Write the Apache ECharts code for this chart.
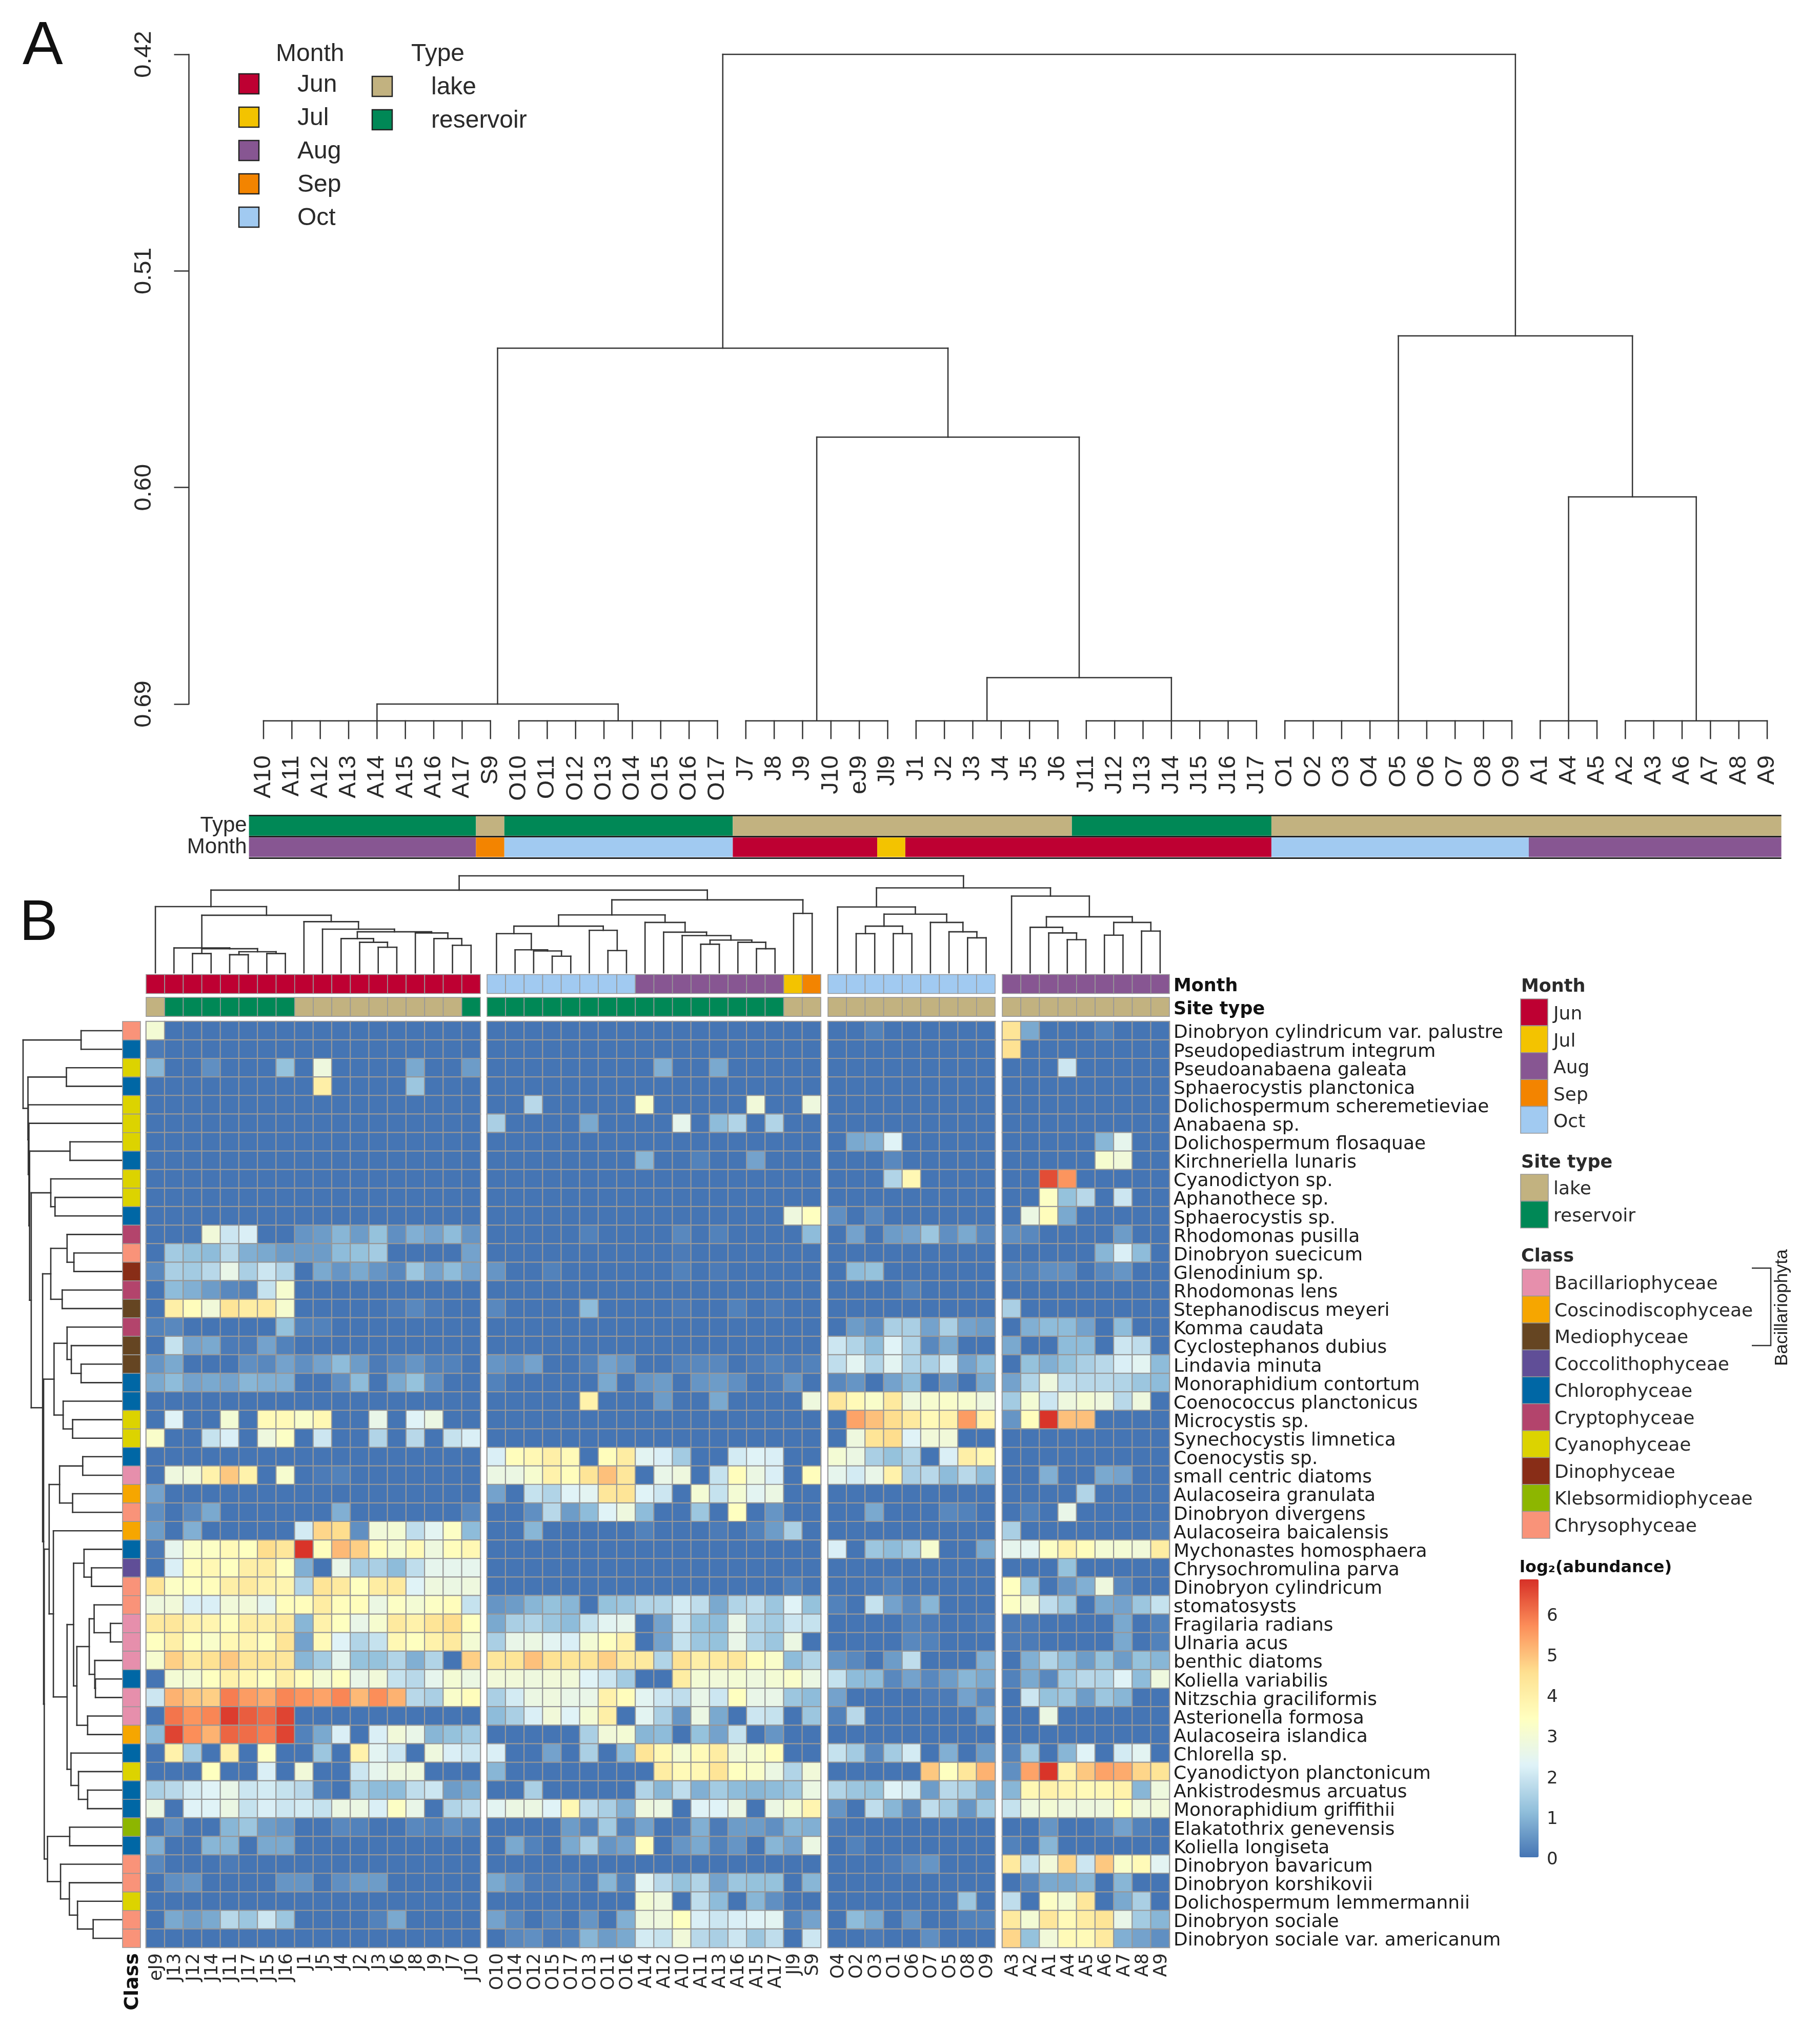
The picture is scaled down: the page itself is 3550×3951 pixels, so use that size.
<!DOCTYPE html>
<html><head><meta charset="utf-8">
<script src="https://cdn.jsdelivr.net/npm/echarts@6/dist/echarts.min.js"></script>
<style>html,body{margin:0;padding:0;background:#fff}#c{width:3550px;height:3951px}</style>
</head><body><div id="c"></div>
<script>
// ---------- Panel A data ----------
const samplesA = ['A10','A11','A12','A13','A14','A15','A16','A17','S9','O10','O11','O12','O13','O14','O15','O16','O17','J7','J8','J9','J10','eJ9','Jl9','J1','J2','J3','J4','J5','J6','J11','J12','J13','J14','J15','J16','J17','O1','O2','O3','O4','O5','O6','O7','O8','O9','A1','A4','A5','A2','A3','A6','A7','A8','A9'];
const typeBandsA = [[0,8,'reservoir'],[8,9,'lake'],[9,17.05,'reservoir'],[17.05,29,'lake'],[29,36.03,'reservoir'],[36.03,54,'lake']];
const monthBandsA = [[0,8,'Aug'],[8,9,'Sep'],[9,17.05,'Oct'],[17.05,22.14,'Jun'],[22.14,23.13,'Jul'],[23.13,36.03,'Jun'],[36.03,45.1,'Oct'],[45.1,54,'Aug']];
const axisTicksA = [0.42,0.51,0.60,0.69];
const treeA = [0.42,
  [0.5421,
    [0.69,[0.697,0,0,0,0,0,0,0,0,0],[0.697,0,0,0,0,0,0,0,0]],
    [0.5791,[0.697,0,0,0,0,0,0],[0.679,[0.697,0,0,0,0,0,0],[0.697,0,0,0,0,0,0,0]]]],
  [0.537,
    [0.697,0,0,0,0,0,0,0,0,0],
    [0.6039,[0.697,0,0,0],[0.697,0,0,0,0,0,0]]]];
// ---------- Panel B data ----------
const colsB1 = ['eJ9','J13','J12','J14','J11','J17','J15','J16','J1','J5','J4','J2','J3','J6','J8','J9','J7','J10'];
const colsB2 = ['O10','O14','O12','O15','O17','O13','O11','O16','A14','A12','A10','A11','A13','A16','A15','A17','Jl9','S9'];
const colsB3 = ['O4','O2','O3','O1','O6','O7','O5','O8','O9'];
const colsB4 = ['A3','A2','A1','A4','A5','A6','A7','A8','A9'];
const monthRunsB = [[['Jun',18]],[['Oct',8],['Aug',8],['Jul',1],['Sep',1]],[['Oct',9]],[['Aug',9]]];
const typeRunsB = [[['lake',1],['reservoir',7],['lake',9],['reservoir',1]],[['reservoir',16],['lake',2]],[['lake',9]],[['lake',9]]];
const taxa = ['Dinobryon cylindricum var. palustre','Pseudopediastrum integrum','Pseudoanabaena galeata','Sphaerocystis planctonica','Dolichospermum scheremetieviae','Anabaena sp.','Dolichospermum flosaquae','Kirchneriella lunaris','Cyanodictyon sp.','Aphanothece sp.','Sphaerocystis sp.','Rhodomonas pusilla','Dinobryon suecicum','Glenodinium sp.','Rhodomonas lens','Stephanodiscus meyeri','Komma caudata','Cyclostephanos dubius','Lindavia minuta','Monoraphidium contortum','Coenococcus planctonicus','Microcystis sp.','Synechocystis limnetica','Coenocystis sp.','small centric diatoms','Aulacoseira granulata','Dinobryon divergens','Aulacoseira baicalensis','Mychonastes homosphaera','Chrysochromulina parva','Dinobryon cylindricum','stomatosysts','Fragilaria radians','Ulnaria acus','benthic diatoms','Koliella variabilis','Nitzschia graciliformis','Asterionella formosa','Aulacoseira islandica','Chlorella sp.','Cyanodictyon planctonicum','Ankistrodesmus arcuatus','Monoraphidium griffithii','Elakatothrix genevensis','Koliella longiseta','Dinobryon bavaricum','Dinobryon korshikovii','Dolichospermum lemmermannii','Dinobryon sociale','Dinobryon sociale var. americanum'];
const taxonClass = ['Chrysophyceae','Chlorophyceae','Cyanophyceae','Chlorophyceae','Cyanophyceae','Cyanophyceae','Cyanophyceae','Chlorophyceae','Cyanophyceae','Cyanophyceae','Chlorophyceae','Cryptophyceae','Chrysophyceae','Dinophyceae','Cryptophyceae','Mediophyceae','Cryptophyceae','Mediophyceae','Mediophyceae','Chlorophyceae','Chlorophyceae','Cyanophyceae','Cyanophyceae','Chlorophyceae','Bacillariophyceae','Coscinodiscophyceae','Chrysophyceae','Coscinodiscophyceae','Chlorophyceae','Coccolithophyceae','Chrysophyceae','Chrysophyceae','Bacillariophyceae','Bacillariophyceae','Bacillariophyceae','Chlorophyceae','Bacillariophyceae','Bacillariophyceae','Coscinodiscophyceae','Chlorophyceae','Cyanophyceae','Chlorophyceae','Chlorophyceae','Klebsormidiophyceae','Chlorophyceae','Chrysophyceae','Chrysophyceae','Cyanophyceae','Chrysophyceae','Chrysophyceae'];
const heatB1 = [
[3.0,0,0,0,0,0,0,0,0,0,0,0,0,0,0,0,0,0],
[0.1,0,0,0,0,0,0,0,0,0,0,0,0,0,0,0,0,0],
[1.0,0,0,0.4,0,0,0,1.2,0,2.8,0,0,0,0,0.8,0,0,0.6],
[0,0,0,0,0,0,0,0,0,4.0,0,0,0,0,1.3,0,0,0],
[0,0,0,0,0,0,0,0,0,0,0,0,0,0,0,0,0,0],
[0,0,0,0,0,0,0,0,0,0,0,0,0,0,0,0,0,0],
[0,0,0,0,0,0,0,0,0,0,0,0,0,0,0,0,0,0],
[0,0,0,0,0,0,0,0,0,0,0,0,0,0,0,0,0,0],
[0,0,0,0,0,0,0,0,0,0,0,0,0,0,0,0,0,0],
[0,0,0,0,0,0,0,0,0,0,0,0,0,0,0,0,0,0],
[0,0,0,0,0,0,0,0,0,0,0,0,0,0,0,0,0,0],
[0,0,0,2.9,2.0,2.2,0,0,0.5,0.6,1.0,0.6,1.2,0.4,0.9,0.7,1.1,0.5],
[0,1.4,1.2,1.1,1.7,0.9,0.8,0.6,0.6,0.6,1.1,1.2,1.4,0,0,0,0,0.7],
[0.3,1.5,1.4,1.7,2.6,1.5,2.0,1.6,0,0.8,0.5,0.8,0.5,0.3,1.3,0.7,1.1,0.7],
[0,1.1,0.9,0.6,0.3,0.2,1.9,3.1,0,0,0,0,0,0,0,0,0,0],
[0,4.0,3.5,2.9,4.4,4.1,4.2,3.1,0,0,0,0,0,0.1,0.3,0.1,0,0],
[0.2,0.3,0,0,0,0,0,1.2,0.2,0.2,0,0,0,0,0,0,0,0],
[0,1.9,0.7,0.8,0.1,0.1,0.7,0.2,0,0,0,0,0,0,0,0,0,0],
[0.5,0.8,0,0,0,0.4,0.3,0.7,0.4,0.7,1.1,0.6,0.1,0.3,0.5,0.2,0.2,0],
[0.8,1.1,0.7,0.8,0.7,1.0,0.9,0.9,0,0,0.4,1.1,0,0.8,1.2,0.4,0,0],
[0,0,0,0,0,0,0,0,0,0,0,0,0,0,0,0,0,0],
[0,2.3,0,0,3.0,0,3.6,3.6,3.2,3.7,0,0,2.6,0,2.3,2.7,0,0],
[3.2,0,0,1.9,2.2,0,2.8,3.3,0,2.0,0,0,1.6,0,1.7,0,1.9,2.2],
[0,0,0,0,0,0,0,0,0,0,0,0,0,0,0,0,0,0],
[0,2.8,2.9,3.9,4.9,3.9,0,3.1,0,0.1,0.2,0,0,0,0,0,0,0],
[0.7,0,0,0,0,0,0,0,0,0,0,0,0,0,0,0,0,0],
[0.4,0,0.3,0.8,0,0,0,0,0,0,0.9,0,0,0,0,0,0,0.3],
[0.6,0,0.9,0,0,0,0,0,2.1,4.7,4.6,0.4,2.9,3.0,1.8,2.4,3.3,1.1],
[0.1,2.5,3.2,3.3,3.6,3.4,4.6,4.3,6.8,3.5,5.1,4.8,3.5,3.1,3.6,2.8,3.5,3.7],
[0,2.2,3.5,3.7,3.4,4.0,4.1,3.4,0.9,0,2.6,1.4,1.5,1.1,1.8,2.5,2.5,2.5],
[4.4,3.3,3.4,3.5,4.0,4.2,3.9,3.8,1.6,4.4,4.2,3.4,4.1,4.2,2.3,2.8,2.7,2.8],
[2.8,2.9,2.2,2.2,2.9,2.9,2.5,3.5,3.5,4.1,3.5,3.5,2.7,3.3,3.0,3.3,3.5,1.9],
[4.2,4.3,3.9,3.8,3.5,4.1,4.0,4.2,1.0,3.9,3.4,2.6,3.1,4.2,3.9,4.4,4.6,3.4],
[3.4,4.0,3.4,3.2,3.7,3.8,3.5,4.4,0.7,3.6,2.3,1.6,1.9,3.7,3.4,3.9,4.2,3.0],
[3.1,4.8,4.2,4.5,4.9,4.4,4.4,4.3,1.0,1.4,2.5,1.2,1.2,1.6,0.9,1.6,0,4.8],
[0,3.0,3.0,3.4,3.9,3.7,3.4,4.0,3.5,3.0,3.4,2.6,2.9,1.9,1.7,2.5,3.0,2.7],
[2.0,5.2,4.9,4.8,5.9,5.5,5.3,5.8,5.6,5.4,5.8,5.1,5.7,5.2,1.7,1.5,3.2,3.5],
[0,6.0,5.6,5.8,6.7,6.3,6.1,6.6,0,0,0,0,0,0,0,0,0,0],
[1.1,6.6,5.7,5.2,6.2,6.1,5.9,6.6,0.2,0.8,2.2,0,2.2,2.9,2.6,1.0,1.2,1.4],
[0,3.9,1.4,0,4.0,0,3.3,0,0,1.3,0,3.9,2.4,2.0,0,2.8,2.2,2.0],
[0,0,0,3.4,0,0,2.2,0,2.9,0,0,2.0,2.5,2.8,2.8,0,0,0],
[1.5,1.7,2.1,2.3,2.6,2.0,2.1,1.9,1.7,0.2,0,1.4,1.1,1.1,1.8,2.0,0.6,0.8],
[2.7,0,2.3,2.3,2.7,1.9,2.2,2.0,2.1,1.9,2.7,2.7,2.2,3.3,2.6,0,1.6,1.8],
[0,0.4,0,0,1.0,1.3,0.6,0.5,0,0,0.3,0.2,0,0,0.3,0.2,0.4,0.2],
[0.9,0,0,1.0,1.0,0,0.8,0.8,0,0,0,0,0,0,0,0,0,0],
[0.3,0,0,0,0.1,0,0,0,0,0,0,0,0,0,0,0,0,0],
[0,0.4,0.5,0,0,0,0,0.5,0.5,0,0.4,0.6,0.6,0,0,0,0,0],
[0,0,0,0,0,0,0,0,0,0,0,0,0,0,0,0,0,0],
[0,0.8,0.6,0.8,1.7,1.3,2.0,1.3,0,0,0,0,0.2,0.8,0,0,0,0],
[0,0,0,0,0,0,0,0,0,0,0,0,0,0,0,0,0,0]];
const heatB2 = [
[0,0,0,0,0,0,0,0,0,0,0,0,0,0,0,0,0,0],
[0,0,0,0,0,0,0,0,0,0,0,0,0,0,0,0,0,0],
[0,0,0,0,0,0,0,0,0,0.9,0,0,0.8,0,0,0,0,0],
[0,0,0,0,0,0,0,0,0,0,0,0,0,0,0,0,0,0],
[0,0,1.7,0,0,0,0,0,3.2,0,0,0,0,0,2.9,0,0,2.8],
[1.5,0,0,0,0,0.8,0,0,0,0,2.5,0,1.1,1.6,0,1.6,0,0],
[0,0,0,0,0,0,0,0,0,0,0,0,0,0,0,0,0,0],
[0,0,0,0,0,0,0,0,1.0,0,0,0.2,0,0,0.7,0,0,0],
[0,0,0,0,0,0,0,0,0,0,0,0,0,0,0,0,0,0],
[0,0,0,0,0,0,0,0,0,0,0,0,0,0,0,0,0,0],
[0,0,0,0,0,0,0,0,0,0,0,0,0,0,0,0,2.8,3.4],
[0,0,0,0,0,0.2,0,0,0,0,0.3,0,0.2,0,0,0,0,1.1],
[0,0,0,0,0,0,0,0,0,0,0.1,0,0,0,0,0,0,0],
[0.5,0,0,0.2,0,0,0,0,0,0,0.2,0,0.1,0,0,0,0,0],
[0,0,0,0,0,0,0,0,0,0,0,0,0,0,0,0,0,0],
[0.3,0,0,0,0,1.1,0,0,0,0,0.1,0,0,0.2,0,0.1,0,0],
[0,0,0,0,0,0,0,0,0,0,0,0,0,0,0,0,0,0],
[0,0,0,0,0,0,0,0,0,0,0,0,0,0,0,0,0,0],
[0.5,0.4,0.7,0,0,0.2,0.7,0.5,0,0,0.2,0.3,0.3,0,0.1,0.2,0.1,0.2],
[0.2,0,0,0,0,0,0.8,0,0.5,0.6,0,0.5,0.6,0.4,0,0.1,0.5,0],
[0,0,0,0,0,3.9,0,0,0,0.6,0,0,0.8,0,0,0,0,2.8],
[0,0,0,0,0,0,0,0,0,0,0,0,0,0,0,0,0,0],
[0,0,0,0,0,0,0,0,0,0,0,0,0,0,0,0,0,0],
[2.2,3.5,3.7,4.0,3.6,0,3.5,4.1,2.4,2.2,1.4,0,0,2.1,2.3,2.2,0,0],
[2.7,2.7,3.1,3.9,3.5,4.4,5.0,4.3,0,2.6,2.8,0,1.9,3.5,2.7,2.2,0,3.5],
[0.7,0,1.9,1.6,2.3,2.4,4.3,4.4,2.3,2.0,0,3.0,1.9,3.0,2.4,2.7,0,0],
[0,0,0.4,1.7,0.6,1.1,2.3,2.8,1.1,0,0,1.3,0,3.4,0,0.5,0,0],
[0,0,1.0,0,0,0,0,0,0.2,0,0,0,0.1,0,0.2,0.6,1.5,0],
[0,0,0,0,0,0,0,0,0,0,0,0,0,0,0,0,0,0],
[0,0,0,0,0,0,0,0,0,0,0,0,0,0,0,0,0,0],
[0,0,0,0,0,0,0,0,0,0,0,0,0,0,0,0,0.2,0],
[0.5,0.6,1.0,1.2,1.0,0,1.2,1.3,1.6,1.6,2.1,1.8,0.8,1.6,1.8,1.3,2.3,1.2],
[0.8,1.5,1.6,1.3,1.1,1.9,2.4,2.5,0,0.7,2.0,1.2,1.1,2.6,1.6,1.4,2.0,1.9],
[1.5,2.6,2.7,2.4,2.2,3.0,3.4,3.9,0,0.7,1.9,1.3,1.2,2.6,1.6,1.3,2.7,0],
[4.3,4.4,5.0,4.5,4.4,4.4,4.8,4.2,4.2,1.6,4.5,4.0,4.2,4.3,3.5,3.2,1.1,1.6],
[2.9,2.9,2.8,2.9,2.9,2.3,2.0,1.4,0,0,4.1,3.0,2.9,3.0,2.8,3.0,3.2,2.7],
[1.5,2.1,2.7,2.8,2.6,2.6,3.9,3.5,2.4,2.0,1.8,2.6,2.0,3.4,2.6,2.6,1.3,1.1],
[1.1,1.5,2.2,2.9,2.3,3.0,4.0,0,2.4,1.5,0.5,2.7,0.8,0,2.0,1.9,0,1.3],
[0,0,0,0,0,1.5,2.9,3.0,1.0,1.1,0,1.2,0.7,1.9,0,0.5,0,0],
[2.2,0,0,0.7,0,1.5,0,1.1,4.4,3.7,3.0,3.6,4.1,2.9,3.1,3.5,0,0],
[1.0,0,0,0,0,0,0,0,0,4.1,3.6,3.7,4.4,3.4,3.2,2.7,1.6,2.9],
[0,0,1.5,0,0,0,0,0,1.6,1.0,1.8,0.9,1.4,1.1,1.0,1.1,1.3,2.7],
[2.4,2.7,2.7,2.3,3.7,1.8,1.5,0.9,2.8,2.7,0,2.3,2.3,2.7,0,2.7,3.0,3.8],
[0,0,0,0,0.6,0.2,1.4,0.2,0.7,0,0.1,0.9,0.1,0.6,0.6,0.4,1.0,0.9],
[0,0.8,0.2,0,0.8,1.5,0.5,0.7,3.5,0,0.5,0.8,0.2,0.5,0,1.0,0.7,2.7],
[0,0,0,0,0,0,0,0,0,0,0,0,0,0,0,0,0,0],
[0.8,0.5,0.1,0.1,0.2,0,1.0,0.2,2.4,1.7,1.2,1.6,0.7,1.3,1.2,1.2,0,1.0],
[0,0,0,0,0,0,0,0,3.0,2.8,0,1.8,1.1,0,1.0,0.4,0,0],
[0.7,0.3,0,0.2,0,0.5,0,0.9,2.8,2.8,3.4,2.2,2.0,2.2,2.3,2.4,0.2,0.7],
[0,0.3,0.4,0.1,0.2,1.0,0.6,0.8,2.1,1.9,2.9,1.7,1.5,2.0,1.3,1.8,0,2.0]];
const heatB3 = [
[0,0,0.2,0,0,0,0,0,0],[0,0,0,0,0,0,0,0,0],[0,0,0,0,0,0,0,0,0],[0,0,0,0,0,0,0,0,0],[0,0,0,0,0,0,0,0,0],[0,0,0,0,0,0,0,0,0],
[0,0.8,0.9,2.3,0,0,0,0,0],[0,0,0,0.3,0,0,0,0,0],[0,0,0,1.6,3.7,0,0,0,0],[0,0,0,0,0,0,0,0,0],[0.4,0,0.3,0,0,0,0,0,0],
[0,0.7,0,0.6,0.7,1.3,0.4,0.8,0.3],[0,0,0,0,0,0,0,0,0],[0,1.1,1.2,0,0,0,0,0,0],[0,0,0,0,0.2,0,0,0,0],[0,0,0,0,0,0,0,0,0],
[0,0.6,0.4,1.5,1.5,0.7,1.5,0.7,0.6],[2.0,1.6,1.1,2.3,1.6,0.3,0.8,0,0],[1.8,2.4,1.6,2.4,1.6,1.5,2.1,0.7,1.1],[0.3,0.5,0,0.7,1.1,0,0.5,0,0.8],
[4.3,3.6,3.2,4.2,2.8,3.1,3.2,3.1,2.8],[0,5.4,5.0,4.6,4.2,3.6,3.9,5.5,3.8],[0,2.8,4.4,4.6,2.3,2.9,2.9,0,0],
[3.0,2.7,1.5,1.2,1.6,0,2.2,4.0,3.7],[2.5,2.1,2.6,3.9,1.5,1.7,1.1,1.7,1.1],[0,0,0,0,0,0,0,0,0],[0,0,0.8,0,0,0,0.3,0.2,0],[0,0,0,0,0,0,0,0,0],
[2.2,0,1.3,1.1,1.4,3.1,0,0,0.8],[0,0,0,0,0,0,0,0,0],[0,0,0.05,0.2,0,0,0,0,0],[0.2,0,1.9,0.7,0.3,1.0,0,0,0],
[0,0,0,0,0.2,0.1,0,0,0.1],[0,0,0,0,0.3,0.2,0,0,0],[0.5,0.3,0,0.6,1.8,0,0,0,0.9],[1.9,1.1,1.1,0.3,0.7,0.3,0.6,1.0,0.8],
[0.7,0,0,0,0,0.1,0.1,0.7,0.3],[0.2,1.7,0,0,0,0,0,0,0.8],[0,0,0,0,0,0,0,0,0],[1.9,1.4,0.3,1.4,2.1,0,0.9,0,0.6],
[0,0,0,0,0,4.9,3.4,4.3,5.2],[1.6,1.3,1.2,2.3,2.1,0.6,1.7,1.5,0.8],[0.5,0,1.8,1.0,0.3,1.8,1.4,0.5,1.4],
[0.1,0,0,0,0,0,0,0,0],[0,0.2,0,0,0,0,0,0,0],[0,0,0,0.1,0.3,0.5,0,0,0],[0,0,0,0,0,0,0,0,0],[0,0,0,0,0,0,0,1.3,0],
[0,1.1,0.8,0,0.5,0,0,0.2,0.2],[0,0,0.1,0,0,0.4,0,0,0]];
const heatB4 = [
[4.4,0.8,0,0,0,0.2,0,0,0],[4.5,0,0,0,0,0,0,0,0],[0,0,0,2.0,0,0,0,0,0],[0,0,0,0,0,0,0,0,0],[0,0,0,0,0,0,0,0,0],[0,0,0,0,0,0,0,0,0],
[0,0,0,0,0,1.0,2.5,0,0],[0,0,0,0,0,3.1,2.9,0,0],[0,0,6.5,5.6,0,0,0,0,0],[0,0,3.3,1.2,1.7,0,2.0,0,0],[0,2.7,3.5,0.8,0,0,0,0,0],
[0.4,0.3,0,0,0,0,0.6,0,0],[0,0,0,0,0,1.0,2.2,1.1,0],[0.2,0.2,0.4,0.4,0,0.3,0.5,0,0],[0,0,0,0,0,0,0,0,0],[1.5,0,0,0,0,0,0,0,0],
[0,0.9,1.1,1.1,0.7,0,1.1,0,0],[0.8,0,0,1.1,1.1,0,2.0,1.8,0],[0,1.2,0.9,1.2,1.5,1.7,2.2,2.4,1.1],[0.7,1.6,2.8,1.8,1.7,1.7,1.6,1.3,1.1],
[1.4,3.0,2.0,2.8,3.0,2.8,1.7,2.8,0],[0.5,3.5,6.8,5.0,5.0,0,0,0,0],[0,0,0,0,0,0,0,0,0],[0,0,0,0,0,0,0,0,0],
[0,0,0.9,0,0,0.8,0.7,0,0],[0,0,0,0,1.6,0,0,0,0],[0,0.2,0,2.6,0,0,0,0,0],[1.5,0,0,0,0,0,0,0,0.1],
[2.5,2.4,3.3,3.9,3.5,3.0,3.0,2.9,4.1],[0,0,0,1.2,0,0,0,0,0],[3.4,1.3,0,0.5,0.9,2.8,0.3,0,0],[3.3,2.9,1.8,1.3,0,0.8,0.7,1.3,1.9],
[0.1,0.1,0,0,0,0,0.8,0,0.2],[0.1,0.1,0,0,0,0,0.8,0,0.2],[0,0.9,1.6,1.1,0.6,1.2,0.6,1.2,1.0],[0.2,0.8,0.3,1.4,1.7,1.6,2.3,1.1,2.8],
[0,2.0,1.2,1.3,0.6,1.3,1.0,0,0],[0,0,2.7,0,0,0,0,0,0],[0,0,0,0,0,0,0,0,0],[0.2,1.4,0,1.0,2.3,0,2.1,2.4,0],
[0.4,5.4,6.8,3.9,4.9,5.4,5.3,4.7,4.4],[1.0,3.7,3.9,3.8,3.6,3.7,3.9,1.0,2.8],[1.9,2.8,3.0,2.8,2.8,2.8,3.4,2.8,2.9],
[0,0,0.5,0,0,0.2,0.7,0.2,0],[0.2,0,1.0,0,0,0,0,0,0],[4.2,1.9,2.9,4.7,2.0,4.9,3.2,3.6,2.4],[0,0.3,0.8,0.8,1.0,0,1.0,0,0],
[1.8,0,3.3,3.0,4.3,0,0.8,1.5,0],[4.2,3.0,4.3,3.6,4.1,4.4,2.6,1.4,1.0],[4.7,1.2,2.9,3.6,3.6,4.2,0.9,0.7,0.4]];
const treeTop = [258,
  [220,
    [176,0,[153,[66,0,[64,[51,0,0],[56,[48,0,0],[51,0,0]]]],[136,0,[116,0,[109,[91,0,[81,0,[68,0,0]]],[106,0,[91,0,[73,0,0]]]]]]]],
    [194,[154,[124,[104,0,[61,0,[58,0,[44,0,0]]]],[113,0,[59,0,0]]],[134,0,[108,0,[99,0,[87,[76,0,0],[81,0,[64,0,0]]]]]]],[158,0,0]]],
  [226,
    [175,0,[156,[124,[104,0,0],[104,0,0]],[134,0,[109,0,[93,0,0]]]]],
    [204,0,[149,[121,0,[106,0,[88,0,0]]],[134,[100,0,0],[111,0,0]]]]]];
const treeRows = [302,[124,0,0],
  [287,[169,0,0],[286,0,[284,0,[282,[158,0,0],[277,[217,0,[204,0,0]],
    [242,
      [217,[167,0,[146,0,0]],[182,0,0]],
      [239,
        [207,[167,0,[154,0,[124,0,0]]],[179,0,[150,0,0]]],
        [237,
          [222,
            [190,[119,0,0],[150,0,0]],
            [209,0,[167,
              [147,[115,0,[92,0,0]],[137,[99,[84,0,[34,0,0]],[82,0,[80,0,0]]],[104,0,0]]],
              [155,0,[132,0,[104,0,0]]]]]],
          [227,[159,0,0],[187,0,[160,0,[135,0,[87,0,0]]]]]]]]]]]]]];
const monthNames = ['Jun','Jul','Aug','Sep','Oct'];
const siteNames = ['lake','reservoir'];
const classNames = ['Bacillariophyceae','Coscinodiscophyceae','Mediophyceae','Coccolithophyceae','Chlorophyceae','Cryptophyceae','Cyanophyceae','Dinophyceae','Klebsormidiophyceae','Chrysophyceae'];
const colorbarTicks = [0,1,2,3,4,5,6];
const colorbarMax = 6.85;
// ---------- Styling ----------
const palette = {Jun:'#BE0032',Jul:'#F3C300',Aug:'#875692',Sep:'#F38400',Oct:'#A1CAF1',lake:'#C2B280',reservoir:'#008856',
  Bacillariophyceae:'#E68FAC',Coscinodiscophyceae:'#F6A600',Mediophyceae:'#654522',Coccolithophyceae:'#604E97',Chlorophyceae:'#0067A5',Cryptophyceae:'#B3446C',Cyanophyceae:'#DCD300',Dinophyceae:'#882D17',Klebsormidiophyceae:'#8DB600',Chrysophyceae:'#F99379'};
const heatColors = ['#4575B4','#91BFDB','#E0F3F8','#FFFFBF','#FEE090','#FC8D59','#D73027'];
const SANS='"Liberation Sans",Arial,sans-serif', DV='"DejaVu Sans",sans-serif', INK='#2a2a2a', LINE='#333333', GRID='#989898';

function expand(runs){const o=[];runs.forEach(r=>{for(let i=0;i<r[1];i++)o.push(r[0]);});return o;}
function buildDendro(tree,leafPos,base){
  let n=0;const segs=[];
  (function walk(node){
    if(node===0){const p=leafPos(n++);return {p,h:base};}
    const h=node[0],cs=node.slice(1).map(walk),ps=cs.map(c=>c.p),lo=Math.min(...ps),hi=Math.max(...ps);
    segs.push([lo,h,hi,h]);
    cs.forEach(c=>segs.push([c.p,c.h,c.p,h]));
    return {p:(lo+hi)/2,h};
  })(tree);
  return segs;
}
const hidden={show:false};
const grids=[],xAxes=[],yAxes=[],series=[];
function addGrid(g,x,y){grids.push(g);const i=grids.length-1;
  [].concat(x).forEach(a=>xAxes.push(Object.assign({gridIndex:i},a)));
  [].concat(y).forEach(a=>yAxes.push(Object.assign({gridIndex:i},a)));
  return i;}
function dendroSeries(segs,xi,yi,transposed,width){
  return {type:'custom',coordinateSystem:'cartesian2d',xAxisIndex:xi,yAxisIndex:yi,silent:true,clip:false,data:segs,z:3,
    renderItem:(p,api)=>{
      const v=[api.value(0),api.value(1),api.value(2),api.value(3)];
      const a=api.coord(transposed?[v[1],v[0]]:[v[0],v[1]]),b=api.coord(transposed?[v[3],v[2]]:[v[2],v[3]]);
      return {type:'line',shape:{x1:a[0],y1:a[1],x2:b[0],y2:b[1]},style:{stroke:LINE,lineWidth:width,lineCap:'square',fill:null}};
    }};
}
function stripSeries(items,xi,yi,fracH,stroke){
  return {type:'custom',coordinateSystem:'cartesian2d',xAxisIndex:xi,yAxisIndex:yi,silent:true,clip:false,z:2,
    data:items.map(d=>[d[0],d[1]]),
    renderItem:(p,api)=>{
      const c=api.coord([api.value(0),api.value(1)]),s=api.size([1,1]),h=s[1]*fracH;
      const col=palette[items[p.dataIndex][2]];
      return {type:'rect',shape:{x:c[0]-s[0]/2,y:c[1]-h/2,width:s[0],height:h},
        style:{fill:col,stroke:stroke||col,lineWidth:stroke?1.6:0.8}};
    }};
}
// Panel A y axis (stands apart from the tree, as in base R plots)
addGrid({left:368.5,top:106,width:10,height:1267},{type:'value',min:0,max:1,show:false},
 {type:'value',inverse:true,min:axisTicksA[0],max:axisTicksA[3],interval:0.09,splitLine:hidden,position:'left',
  axisLine:{show:true,lineStyle:{color:LINE,width:2.5}},axisTick:{show:true,length:29,lineStyle:{color:LINE,width:2.5}},
  axisLabel:{rotate:90,margin:64,fontFamily:SANS,fontSize:47,color:INK,formatter:v=>v.toFixed(2)}});
// Panel A dendrogram
const segsA=buildDendro(treeA,i=>i,0.7043);
let xi=xAxes.length,yi=yAxes.length;
addGrid({left:514,top:106,width:2933,height:1267},
 [{type:'category',data:samplesA,boundaryGap:false,axisLine:hidden,axisTick:hidden,
   axisLabel:{interval:0,rotate:90,margin:100,fontFamily:SANS,fontSize:47,color:INK}},
  {type:'value',min:0,max:53,show:false}],
 {type:'value',inverse:true,min:axisTicksA[0],max:axisTicksA[3],show:false});
series.push(dendroSeries(segsA,xi+1,yi,false,2.5));
// Panel A strips: bands on a leaf-position axis
const rowsA=['Type','Month'];
xi=xAxes.length;yi=yAxes.length;
addGrid({left:485.6,top:1590,width:2989,height:83},
 {type:'value',min:0,max:54,show:false},
 {type:'category',data:rowsA,inverse:true,axisLine:hidden,axisTick:hidden,
  splitLine:{show:true,interval:0,lineStyle:{color:'#222',width:3}},
  axisLabel:{interval:0,margin:4,fontFamily:SANS,fontSize:42,color:INK}});
const bandsA=typeBandsA.map(b=>[b[0],b[1],0,b[2]]).concat(monthBandsA.map(b=>[b[0],b[1],1,b[2]]));
series.push({type:'custom',coordinateSystem:'cartesian2d',xAxisIndex:xi,yAxisIndex:yi,silent:true,clip:false,z:2,
  data:bandsA.map(b=>[b[0],b[1],b[2]]),encode:{x:[0,1],y:2},
  renderItem:(p,api)=>{
    const a=api.coord([api.value(0),api.value(2)]),b=api.coord([api.value(1),api.value(2)]),h=api.size([0,1])[1]*0.91;
    return {type:'rect',shape:{x:a[0],y:a[1]-h/2,width:b[0]-a[0],height:h},style:{fill:palette[bandsA[p.dataIndex][3]]}};
  }});
// Panel B dendrograms
const blockGap=0.37,colBlock=i=>i<18?0:i<36?1:i<45?2:3;
const segsTop=buildDendro(treeTop,i=>i+0.5+blockGap*colBlock(i),0);
xi=xAxes.length;yi=yAxes.length;
addGrid({left:285,top:1708,width:1996,height:189},{type:'value',min:0,max:55.11,show:false},{type:'value',min:0,max:258,show:false});
series.push(dendroSeries(segsTop,xi,yi,false,2.6));
const segsRows=buildDendro(treeRows,i=>i+0.5,0);
xi=xAxes.length;yi=yAxes.length;
addGrid({left:45,top:1992,width:192,height:1806},{type:'value',inverse:true,min:0,max:302,show:false},{type:'value',inverse:true,min:0,max:50,show:false});
series.push(dendroSeries(segsRows,xi,yi,true,2.6));
// Panel B class strip
xi=xAxes.length;yi=yAxes.length;
addGrid({left:242,top:1992,width:35,height:1806},
 {type:'category',data:['Class'],axisLine:hidden,axisTick:hidden,axisLabel:{interval:0,rotate:90,margin:11,fontFamily:DV,fontWeight:'bold',fontSize:38,color:'#111'}},
 {type:'category',inverse:true,data:taxa,show:false});
xi=xAxes.length;yi=yAxes.length;
addGrid({left:239,top:1992,width:35,height:1806},
 {type:'category',data:['Class'],show:false},
 {type:'category',inverse:true,data:taxa,show:false});
series.push(stripSeries(taxonClass.map((c,i)=>[0,i,c]),xi,yi,1,GRID));
// Panel B heat blocks + strips
const blocks=[{c:colsB1,h:heatB1,l:285,w:652},{c:colsB2,h:heatB2,l:950,w:651},{c:colsB3,h:heatB3,l:1615,w:326},{c:colsB4,h:heatB4,l:1955,w:326}];
const heatIdx=[];
blocks.forEach((b,k)=>{
  const last=k===3;
  xi=xAxes.length;yi=yAxes.length;
  addGrid({left:b.l,top:1992,width:b.w,height:1806},
   {type:'category',data:b.c,show:false},
   {type:'category',inverse:true,data:taxa,show:false});
  const data=[];
  b.h.forEach((row,r)=>row.forEach((v,c)=>data.push([c,r,v])));
  heatIdx.push(series.length);
  series.push({type:'heatmap',xAxisIndex:xi,yAxisIndex:yi,data,silent:true,progressive:0,z:2,
    itemStyle:{borderColor:GRID,borderWidth:2.2}});
  // labels sit in their own frame, nudged to the reference's text baseline
  addGrid({left:b.l+3,top:1997,width:b.w,height:1806},
   {type:'category',data:b.c,axisLine:hidden,axisTick:hidden,axisLabel:{interval:0,rotate:90,margin:6,fontFamily:DV,fontSize:35,color:INK}},
   {type:'category',inverse:true,data:taxa,position:'right',axisLine:hidden,axisTick:hidden,
    axisLabel:{show:last,interval:0,margin:5,fontFamily:DV,fontSize:36,color:'#1c1c1c'}});
  xi=xAxes.length;yi=yAxes.length;
  addGrid({left:b.l,top:1896.7,width:b.w,height:89.2},
   {type:'category',data:b.c,show:false},
   {type:'category',inverse:true,data:['Month','Site type'],show:false});
  const m=expand(monthRunsB[k]),t=expand(typeRunsB[k]),items=[];
  b.c.forEach((s,i)=>{items.push([i,0,m[i]]);items.push([i,1,t[i]]);});
  series.push(stripSeries(items,xi,yi,0.83,GRID));
  if(last) addGrid({left:b.l,top:1901.7,width:b.w,height:89.2},
   {type:'category',data:b.c,show:false},
   {type:'category',inverse:true,data:['Month','Site type'],position:'right',axisLine:hidden,axisTick:hidden,
    axisLabel:{interval:0,margin:8,fontFamily:DV,fontWeight:'bold',fontSize:35,color:'#111'}});
});
// Colour bar axis
addGrid({left:2964,top:3085,width:37,height:542},{type:'value',min:0,max:1,show:false},
 {type:'value',min:0,max:colorbarMax,interval:colorbarTicks[1]-colorbarTicks[0],position:'right',splitLine:hidden,axisLine:hidden,axisTick:hidden,
  axisLabel:{margin:16,showMaxLabel:false,fontFamily:DV,fontSize:34,color:INK}});
// ---------- Legends ----------
const g=[];
const txt=(t,x,y,o)=>g.push({type:'text',silent:true,x,y,rotation:(o&&o.rot)||0,style:{text:t,fontFamily:(o&&o.f)||DV,fontSize:(o&&o.s)||36,fontWeight:(o&&o.w)||'normal',fill:(o&&o.c)||INK,align:(o&&o.a)||'left',verticalAlign:'middle'}});
const box=(x,y,w,h,fill,stroke,lw)=>g.push({type:'rect',silent:true,shape:{x,y,width:w,height:h},style:{fill,stroke,lineWidth:lw}});
txt('A',44,92,{f:SANS,s:118,c:'#111'});
txt('B',38,1802,{f:SANS,s:112,c:'#111'});
txt('Month',538,106,{f:SANS,s:48});
monthNames.forEach((m,i)=>{box(466,144+i*65,39,39,palette[m],'#222',2.5);txt(m,580,166+i*65,{f:SANS,s:48});});
txt('Type',802,106,{f:SANS,s:48});
siteNames.forEach((m,i)=>{box(726,149+i*65,39,39,palette[m],'#222',2.5);txt(m,841,171+i*65,{f:SANS,s:48});});
txt('Month',2967,1925,{w:'bold',s:35});
monthNames.forEach((m,i)=>{box(2966,1948+i*52.4,53,52.4,palette[m],GRID,1.6);txt(m,3030,1979+i*52.4,{});});
txt('Site type',2967,2268,{w:'bold',s:35});
siteNames.forEach((m,i)=>{box(2966,2290+i*52.4,54,52.4,palette[m],GRID,1.6);txt(m,3030,2320+i*52.4,{});});
txt('Class',2967,2451,{w:'bold',s:35});
classNames.forEach((m,i)=>{box(2969,2475+i*52.5,54,52.5,palette[m],GRID,1.6);txt(m,3032,2505+i*52.5,{});});
txt('log₂(abundance)',2964,3058,{w:'bold',s:32,c:'#111'});
g.push({type:'polyline',silent:true,shape:{points:[[3417,2473],[3454,2473],[3454,2624],[3417,2624]]},style:{stroke:LINE,lineWidth:2.5,fill:null}});
txt('Bacillariophyta',3476,2550,{f:SANS,s:35,a:'center',rot:Math.PI/2,c:'#222'});

const chart=echarts.init(document.getElementById('c'),null,{renderer:'canvas'});
chart.setOption({animation:false,backgroundColor:'#fff',grid:grids,xAxis:xAxes,yAxis:yAxes,series,graphic:g,
  visualMap:[{type:'continuous',min:0,max:colorbarMax,seriesIndex:heatIdx,dimension:2,calculable:false,hoverLink:false,realtime:false,
    left:2964,top:3080,itemWidth:37,itemHeight:542,padding:0,text:null,showLabel:false,inRange:{color:heatColors},textStyle:{color:'rgba(0,0,0,0)',fontSize:1}}]});
</script></body></html>
